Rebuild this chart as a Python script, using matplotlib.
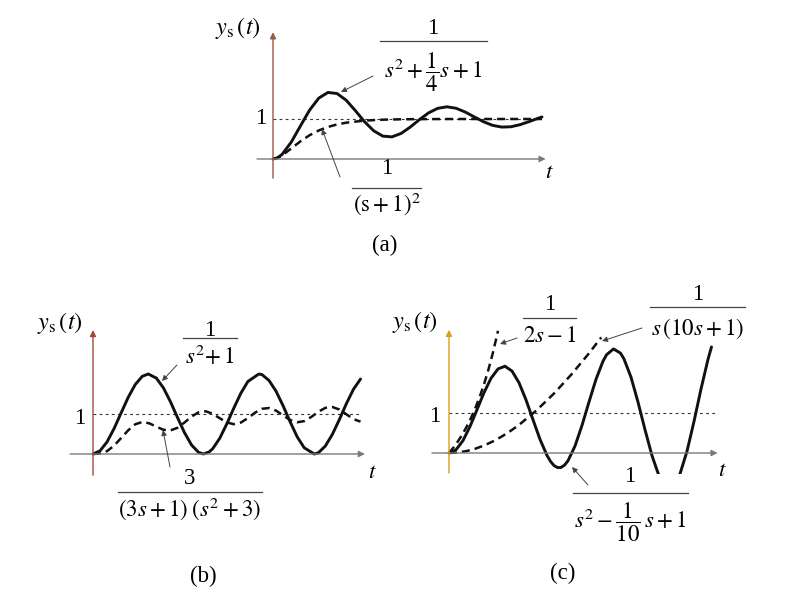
import numpy as np
import matplotlib
matplotlib.use("Agg")
import matplotlib.pyplot as plt

plt.rcParams['font.family'] = ['Liberation Serif', 'DejaVu Serif']
plt.rcParams['mathtext.fontset'] = 'stix'

# ---- values ----
# (a) 1/(s^2 + s/4 + 1)
ta_solid = [0, 0.25, 0.5, 1, 1.5, 2, 2.5, 3, 3.5, 4, 4.5, 5, 5.5, 6, 6.5, 7, 7.5,
            8, 8.5, 9, 9.5, 10, 10.5, 11, 11.5, 12, 12.5, 13, 13.5, 14, 14.5, 14.7]
ya_solid = [0, 0.03, 0.117, 0.424, 0.827, 1.223, 1.521, 1.664, 1.637, 1.469, 1.209,
            0.934, 0.706, 0.572, 0.553, 0.639, 0.798, 0.984, 1.153, 1.266, 1.305,
            1.269, 1.175, 1.052, 0.932, 0.841, 0.798, 0.806, 0.858, 0.936, 1.020, 1.051]
# (a) 1/(s+1)^2
ta_dash = [0, 0.25, 0.5, 1, 1.5, 2, 2.5, 3, 3.5, 4, 5, 6, 7, 8, 10, 12, 14.7]
ya_dash = [0, 0.027, 0.090, 0.264, 0.442, 0.594, 0.713, 0.801, 0.864, 0.908, 0.960,
           0.983, 0.993, 0.997, 1.0, 1.0, 1.0]

# (b) 1/(s^2+1)
tb_solid = [0, 0.4, 0.8, 1.2, 1.6, 2.0, 2.4, 2.8, 3.14, 3.6, 4.0, 4.4, 4.8, 5.2, 5.6,
            6.0, 6.28, 6.6, 6.8, 7.2, 7.6, 8.0, 8.4, 8.8, 9.42, 9.6, 10.0, 10.4, 10.8,
            11.2, 11.6, 12.0, 12.57, 12.8, 13.2, 13.6, 14.0, 14.4, 14.8, 15.2]
yb_solid = [0, 0.079, 0.303, 0.638, 1.029, 1.416, 1.737, 1.942, 2.0, 1.897, 1.654,
            1.307, 0.913, 0.532, 0.224, 0.040, 0.0, 0.052, 0.131, 0.392, 0.751, 1.146,
            1.519, 1.812, 2.0, 1.985, 1.839, 1.570, 1.206, 0.806, 0.430, 0.156,
            0.0, 0.029, 0.198, 0.491, 0.863, 1.262, 1.619, 1.874]
# (b) 3/((3s+1)(s^2+3))
tb_dash = [0, 0.4, 0.8, 1.2, 1.6, 2.0, 2.4, 2.8, 3.2, 3.6, 4.0, 4.4, 4.8, 5.2, 5.6, 6.0,
           6.4, 6.8, 7.2, 7.6, 8.0, 8.4, 8.8, 9.2, 9.6, 10.0, 10.4, 10.8, 11.2, 11.6, 12.0,
           12.4, 12.8, 13.2, 13.6, 14.0, 14.4, 14.8, 15.2]
yb_dash = [0, 0.010, 0.072, 0.209, 0.400, 0.592, 0.743, 0.800, 0.767, 0.683, 0.606,
           0.589, 0.655, 0.787, 0.936, 1.043, 1.068, 1.006, 0.895, 0.790, 0.745,
           0.786, 0.897, 1.032, 1.130, 1.150, 1.084, 0.965, 0.850, 0.793, 0.822,
           0.925, 1.055, 1.153, 1.175, 1.112, 0.992, 0.873, 0.808]

# (c) 1/(s^2 - s/10 + 1)
tc_solid = [0, 0.4, 0.8, 1.2, 1.6, 2.0, 2.4, 2.8, 3.2, 3.6, 4.0, 4.4, 4.8, 5.2, 5.6,
            5.8, 6.0, 6.2, 6.4, 6.6, 6.8, 7.2, 7.6, 8.0, 8.4, 8.8, 9.0, 9.4, 9.8, 10.0,
            10.4, 10.8, 11.2, 11.6, 12.0, 12.4, 12.8, 13.2, 13.6, 14.0, 14.4, 14.8, 15.0]
yc_solid = [0, 0.080, 0.311, 0.663, 1.084, 1.508, 1.868, 2.102, 2.169, 2.049, 1.757,
            1.329, 0.833, 0.341, -0.062, -0.209, -0.314, -0.364, -0.362, -0.304, -0.193,
            0.174, 0.690, 1.276, 1.842, 2.295, 2.455, 2.602, 2.497, 2.351, 1.896, 1.274,
            0.583, -0.067, -0.573, -0.845, -0.831, -0.522, 0.044, 0.789, 1.598, 2.342,
            2.652]
# (c) 1/(2s-1)
tc_unst = [0, 0.25, 0.5, 0.75, 1.0, 1.25, 1.5, 1.75, 2.0, 2.25, 2.5, 2.75, 2.8]
yc_unst = [0, 0.133, 0.284, 0.455, 0.649, 0.868, 1.117, 1.399, 1.718, 2.080, 2.490,
           2.957, 3.055]
# (c) 1/(s(10s+1))
tc_ramp = [0, 0.5, 1, 1.5, 2, 2.5, 3, 3.5, 4, 5, 6, 7, 8, 8.7]
yc_ramp = [0, 0.012, 0.048, 0.107, 0.187, 0.288, 0.408, 0.547, 0.703, 1.065, 1.488,
           1.966, 2.493, 2.89]

ref_level = 1

W, H = 792, 604
fig = plt.figure(figsize=(W / 100, H / 100), dpi=100)
fig.patch.set_facecolor('white')


def panel(ox, oy, sx, sy, xlim, ylim):
    # place an axes so that data (0,0) lands on pixel (ox, oy)
    x0 = ox + xlim[0] * sx
    x1 = ox + xlim[1] * sx
    ytop = oy - ylim[1] * sy
    ybot = oy - ylim[0] * sy
    ax = fig.add_axes([x0 / W, 1 - ybot / H, (x1 - x0) / W, (ybot - ytop) / H])
    ax.set_xlim(xlim)
    ax.set_ylim(ylim)
    ax.axis('off')
    return ax


def axes_arrows(ax, xr, yr, vcol):
    ax.annotate('', xy=(xr[1], 0), xytext=(xr[0], 0), annotation_clip=False,
                arrowprops=dict(arrowstyle='-|>', lw=1.0, color='#7a7a7a',
                                mutation_scale=9, shrinkA=0, shrinkB=0))
    ax.annotate('', xy=(0, yr[1]), xytext=(0, yr[0]), annotation_clip=False,
                arrowprops=dict(arrowstyle='-|>', lw=1.0, color=vcol,
                                mutation_scale=9, shrinkA=0, shrinkB=0))


solid_kw = dict(color='#111111', lw=2.1, solid_capstyle='round', solid_joinstyle='round')
dash_kw = dict(color='#111111', lw=1.8, dashes=(3.2, 2.0))
dot_kw = dict(color='#333333', lw=0.8, dashes=(2.5, 3))

# (a)
axa = panel(273, 159, 18.3, 40, (-1, 15.5), (-0.6, 3.2))
axes_arrows(axa, (-0.87, 14.9), (-0.48, 3.17), '#9a5a40')
axa.plot([0, 14.6], [ref_level, ref_level], **dot_kw)
axa.plot(ta_dash, ya_dash, **dash_kw)
axa.plot(ta_solid, ya_solid, **solid_kw)

# (b)
axb = panel(93, 454, 17.6, 40, (-1.5, 16), (-0.6, 3.2))
axes_arrows(axb, (-1.3, 15.45), (-0.53, 3.1), '#a04a3a')
axb.plot([0, 15.3], [ref_level, ref_level], **dot_kw)
axb.plot(tb_dash, yb_dash, **dash_kw)
axb.plot(tb_solid, yb_solid, **solid_kw)

# (c)
axc = panel(449, 453, 17.5, 40, (-1, 15.8), (-0.52, 3.3))
axes_arrows(axc, (-0.97, 15.35), (-0.5, 3.08), '#d9a020')
axc.plot([0, 15.2], [ref_level, ref_level], **dot_kw)
axc.plot(tc_unst, yc_unst, **dash_kw)
axc.plot(tc_ramp, yc_ramp, **dash_kw)
axc.plot(tc_solid, yc_solid, **solid_kw)

# overlay for labels, in pixel units
ov = fig.add_axes([0, 0, 1, 1])
ov.set_xlim(0, W)
ov.set_ylim(H, 0)
ov.axis('off')

fs = 16.5
fs_y = 17.5


def frac(x, y_num, y_bar, y_den, x0, x1, num, den, size=fs):
    ov.text(x, y_num, num, ha='center', va='center', fontsize=size)
    ov.plot([x0, x1], [y_bar, y_bar], color='#444444', lw=0.9)
    ov.text(x, y_den, den, ha='center', va='center', fontsize=size)


def pointer(xy_from, xy_to):
    ov.annotate('', xy=xy_to, xytext=xy_from,
                arrowprops=dict(arrowstyle='-|>', lw=0.7, color='#444444',
                                mutation_scale=8, shrinkA=0, shrinkB=0))


# (a) labels
ov.text(238, 28, r'$y_{\mathrm{s}}\,(t)$', ha='center', va='center', fontsize=fs_y)
ov.text(261, 119, '1', ha='center', va='center', fontsize=fs)
ov.text(549, 172, r'$t$', ha='center', va='center', fontsize=fs)
frac(433, 28, 41, 72, 380, 487, '1', r'$s^2+\dfrac{1}{4}s+1$')
pointer((373, 76), (341, 92))
frac(387, 168, 188, 204, 352, 421, '1', r'$(\mathrm{s}+1)^2$')
pointer((340, 177), (322, 129))
ov.text(385, 245, '(a)', ha='center', va='center', fontsize=fs)

# (b) labels
ov.text(60, 323, r'$y_{\mathrm{s}}\,(t)$', ha='center', va='center', fontsize=fs_y)
ov.text(80, 418, '1', ha='center', va='center', fontsize=fs)
ov.text(372, 473, r'$t$', ha='center', va='center', fontsize=fs)
frac(210, 330, 338, 357, 183, 237, '1', r'$s^2\!+1$')
pointer((177, 365), (162, 381))
frac(190, 479, 492, 509, 118, 262, '3', r'$(3s+1)\;(s^2+3)$')
pointer((170, 467), (163, 430))
ov.text(203, 576, '(b)', ha='center', va='center', fontsize=fs)

# (c) labels
ov.text(415, 322, r'$y_{\mathrm{s}}\,(t)$', ha='center', va='center', fontsize=fs_y)
ov.text(435, 417, '1', ha='center', va='center', fontsize=fs)
ov.text(722, 470, r'$t$', ha='center', va='center', fontsize=fs)
frac(550, 305, 318, 337, 523, 576, '1', r'$2s-1$')
pointer((517, 338), (500, 344))
frac(698, 295, 307, 329, 650, 745, '1', r'$s\,(10s+1)$')
pointer((642, 328), (602, 341))
frac(630, 477, 493, 522, 573, 688, '1', r'$s^2-\dfrac{1}{10}\,s+1$')
pointer((588, 485), (572, 467))
ov.text(563, 573, '(c)', ha='center', va='center', fontsize=fs)

fig.savefig('out.png', dpi=100, facecolor='white')
